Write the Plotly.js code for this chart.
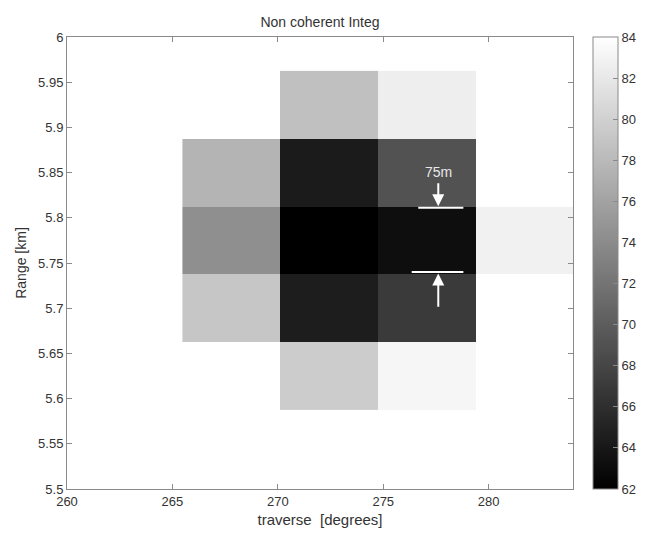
<!DOCTYPE html>
<html>
<head>
<meta charset="utf-8">
<script src="https://cdn.plot.ly/plotly-3.0.1.min.js"></script>
<style>html,body{margin:0;padding:0;background:#fff;}</style>
</head>
<body>
<div id="chart" style="width:658px;height:534px;"></div>
<script>
// traverse cell centres [degrees]
var traverse = [267.8, 272.45, 277.1, 281.7];
// range cell centres [km]
var rangeKm = [5.625, 5.700, 5.775, 5.850, 5.925];
// intensity values (rows = range, cols = traverse); null = no data
var row5625 = [null, 79.6, 83.2, null];
var row5700 = [79.1, 64.5, 67.0, null];
var row5775 = [74.3, 62.0, 63.2, 82.8];
var row5850 = [77.5, 64.3, 69.1, null];
var row5925 = [null, 78.6, 82.5, null];

var xTickVals = [260, 265, 270, 275, 280];
var yTickVals = [5.5, 5.55, 5.6, 5.65, 5.7, 5.75, 5.8, 5.85, 5.9, 5.95, 6];
var yTickText = ['5.5', '5.55', '5.6', '5.65', '5.7', '5.75', '5.8', '5.85', '5.9', '5.95', '6'];
var cbTickVals = [62, 64, 66, 68, 70, 72, 74, 76, 78, 80, 82, 84];

var zData = [row5625, row5700, row5775, row5850, row5925];

var fontFam = 'Liberation Sans, Arial, sans-serif';
var txtCol = '#333333';
var lineCol = '#8a8a8a';

var trace = {
  type: 'heatmap',
  x: traverse,
  y: rangeKm,
  z: zData,
  zmin: 62,
  zmax: 84,
  colorscale: [[0, '#000000'], [1, '#ffffff']],
  hoverongaps: false,
  colorbar: {
    x: 1.0395, xanchor: 'left', xref: 'paper',
    y: 0.5, yanchor: 'middle', yref: 'paper',
    len: 1, lenmode: 'fraction',
    thickness: 25, thicknessmode: 'pixels',
    xpad: 0, ypad: 0,
    outlinewidth: 1, outlinecolor: lineCol,
    tickmode: 'array', tickvals: cbTickVals,
    ticks: 'inside', ticklen: 5, tickcolor: lineCol,
    tickfont: {family: fontFam, size: 13, color: txtCol}
  }
};

var layout = {
  width: 658, height: 534,
  margin: {l: 67, r: 85, t: 37, b: 45},
  paper_bgcolor: '#ffffff',
  plot_bgcolor: '#ffffff',
  font: {family: fontFam, size: 13, color: txtCol},
  title: {
    text: 'Non coherent Integ',
    font: {family: fontFam, size: 14, color: txtCol},
    x: 0.5, xref: 'paper', xanchor: 'center',
    y: 1 - 22/534, yref: 'container', yanchor: 'middle'
  },
  xaxis: {
    range: [260, 284], autorange: false,
    tickmode: 'array', tickvals: xTickVals,
    ticks: 'inside', ticklen: 5, tickcolor: lineCol,
    showline: true, linecolor: lineCol, linewidth: 1, mirror: 'ticks',
    showgrid: false, zeroline: false,
    tickfont: {family: fontFam, size: 13, color: txtCol},
    title: {text: 'traverse\u00a0 [degrees]', font: {family: fontFam, size: 15, color: txtCol}, standoff: 6}
  },
  yaxis: {
    range: [5.5, 6], autorange: false,
    tickmode: 'array', tickvals: yTickVals, ticktext: yTickText,
    ticks: 'inside', ticklen: 5, tickcolor: lineCol,
    showline: true, linecolor: lineCol, linewidth: 1, mirror: 'ticks',
    showgrid: false, zeroline: false,
    tickfont: {family: fontFam, size: 13, color: txtCol},
    title: {text: 'Range [km]', font: {family: fontFam, size: 14, color: txtCol}, standoff: 8}
  },
  shapes: [
    {type: 'line', xref: 'x', yref: 'y', x0: 276.66, x1: 278.8, y0: 5.811, y1: 5.811,
     line: {color: '#ffffff', width: 2}},
    {type: 'line', xref: 'x', yref: 'y', x0: 276.35, x1: 278.8, y0: 5.740, y1: 5.740,
     line: {color: '#ffffff', width: 2}}
  ],
  annotations: [
    {x: 277.61, y: 5.8505, xref: 'x', yref: 'y', text: '75m', showarrow: false,
     font: {family: fontFam, size: 14, color: '#e8e8e8'}},
    {x: 277.61, y: 5.8128, ax: 277.61, ay: 5.840, xref: 'x', yref: 'y', axref: 'x', ayref: 'y',
     text: '', showarrow: true, arrowhead: 2, arrowsize: 1.2, arrowwidth: 2, arrowcolor: '#ffffff'},
    {x: 277.61, y: 5.7385, ax: 277.61, ay: 5.700, xref: 'x', yref: 'y', axref: 'x', ayref: 'y',
     text: '', showarrow: true, arrowhead: 2, arrowsize: 1.2, arrowwidth: 2, arrowcolor: '#ffffff'}
  ]
};

Plotly.newPlot('chart', [trace], layout, {displayModeBar: false, staticPlot: true});
</script>
</body>
</html>
